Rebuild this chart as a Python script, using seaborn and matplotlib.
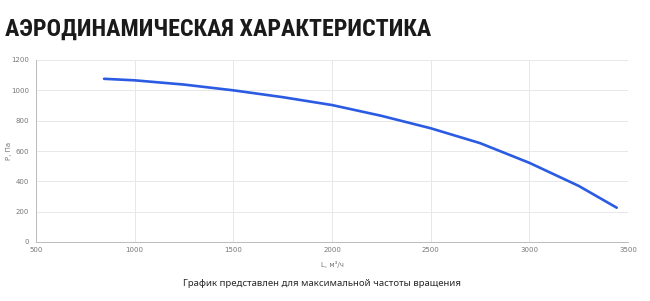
import matplotlib
matplotlib.use("Agg")
import matplotlib.pyplot as plt
import seaborn as sns
import pandas as pd
from matplotlib import font_manager

flow = [845, 1000, 1250, 1500, 1750, 2000, 2250, 2500, 2750, 3000, 3250, 3443]
pressure = [1076, 1066, 1038, 1000, 955, 903, 832, 750, 652, 522, 370, 226]
x_ticks = [500, 1000, 1500, 2000, 2500, 3000, 3500]
y_ticks = [0, 200, 400, 600, 800, 1000, 1200]

title = "АЭРОДИНАМИЧЕСКАЯ ХАРАКТЕРИСТИКА"
caption = "График представлен для максимальной частоты вращения"
x_label = "L, м³/ч"
y_label = "P, Па"

sns.set_theme(style="white")
plt.rcParams["font.family"] = ["DejaVu Sans"]

names = {f.name for f in font_manager.fontManager.ttflist}
title_font = "DejaVu Sans"
title_size = 13.2
for cand, size in [("Noto Sans ExtraCondensed", 22), ("Roboto Condensed", 17.3),
                   ("Noto Sans Condensed", 17.3), ("Open Sans Condensed", 17.3),
                   ("Liberation Sans Narrow", 16.5), ("DejaVu Sans Condensed", 14)]:
    if cand in names:
        title_font, title_size = cand, size
        break

df = pd.DataFrame({"L": flow, "P": pressure})

fig = plt.figure(figsize=(6.5, 3.01), dpi=100)
ax = fig.add_axes([36 / 650, 1 - 242 / 301, 592 / 650, 182 / 301])

sns.lineplot(data=df, x="L", y="P", ax=ax, color="#2b5be3", linewidth=1.9)

ax.set_xlim(500, 3500)
ax.set_ylim(0, 1200)
ax.set_xticks(x_ticks)
ax.set_yticks(y_ticks)
ax.tick_params(axis="both", labelsize=5, colors="#777777", length=3, width=0.6)
ax.tick_params(axis="y", pad=2)
ax.tick_params(axis="x", length=0, pad=3.5)
ax.grid(True, color="#e8e8e8", linewidth=0.7)
for s in ["top", "right"]:
    ax.spines[s].set_visible(False)
for s in ["left", "bottom"]:
    ax.spines[s].set_color("#bbbbbb")
    ax.spines[s].set_linewidth(0.7)
ax.set_xlabel(x_label, fontsize=5, color="#777777")
ax.set_ylabel(y_label, fontsize=5, color="#777777")
ax.xaxis.set_label_coords(0.5, -0.104)
ax.yaxis.set_label_coords(-24 / 592, 0.5)

fig.text(5 / 650, 1 - 29 / 301, title, fontsize=title_size, fontweight="bold",
         family=[title_font, "DejaVu Sans"], color="#1a1a1a",
         va="center", ha="left")
fig.text(322 / 650, 1 - 283 / 301, caption, fontsize=6.9, family=["Noto Sans", "DejaVu Sans"],
         color="#2a2a2a", va="center", ha="center")

fig.savefig("out.png", dpi=100, facecolor="white")
